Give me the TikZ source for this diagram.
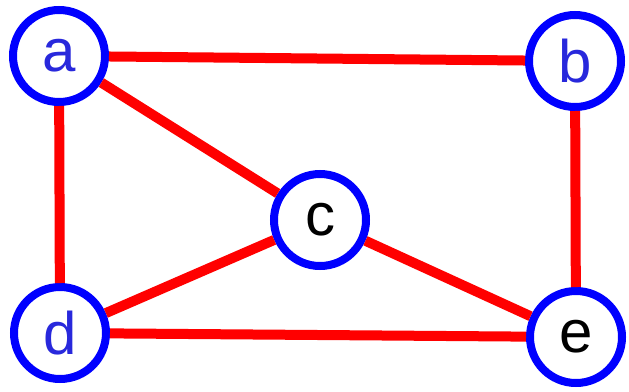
\documentclass[tikz,border=0pt]{standalone}
\usepackage{fontspec}
\setmainfont{Liberation Sans}
\begin{document}
\begin{tikzpicture}[x=1pt,y=-1pt,
  vert/.style={circle,draw={rgb,255:red,0;green,0;blue,255},line width=8pt,fill=white,minimum size=92pt,inner sep=0pt,font=\fontsize{60}{60}\selectfont},
  bl/.style={text={rgb,255:red,40;green,40;blue,220}},
  edge/.style={draw={rgb,255:red,255;green,0;blue,0},line width=10pt}]
\useasboundingbox (0,0) rectangle (629,391);
\node[vert,bl] (a) at (59,56) {a};
\node[vert,bl] (b) at (575,61) {b};
\node[vert] (c) at (320,220) {c};
\node[vert,bl] (d) at (60,333) {d};
\node[vert] (e) at (576,337) {e};
\draw[edge] (a) -- (b);
\draw[edge] (a) -- (c);
\draw[edge] (a) -- (d);
\draw[edge] (b) -- (e);
\draw[edge] (c) -- (d);
\draw[edge] (c) -- (e);
\draw[edge] (d) -- (e);
\end{tikzpicture}
\end{document}
